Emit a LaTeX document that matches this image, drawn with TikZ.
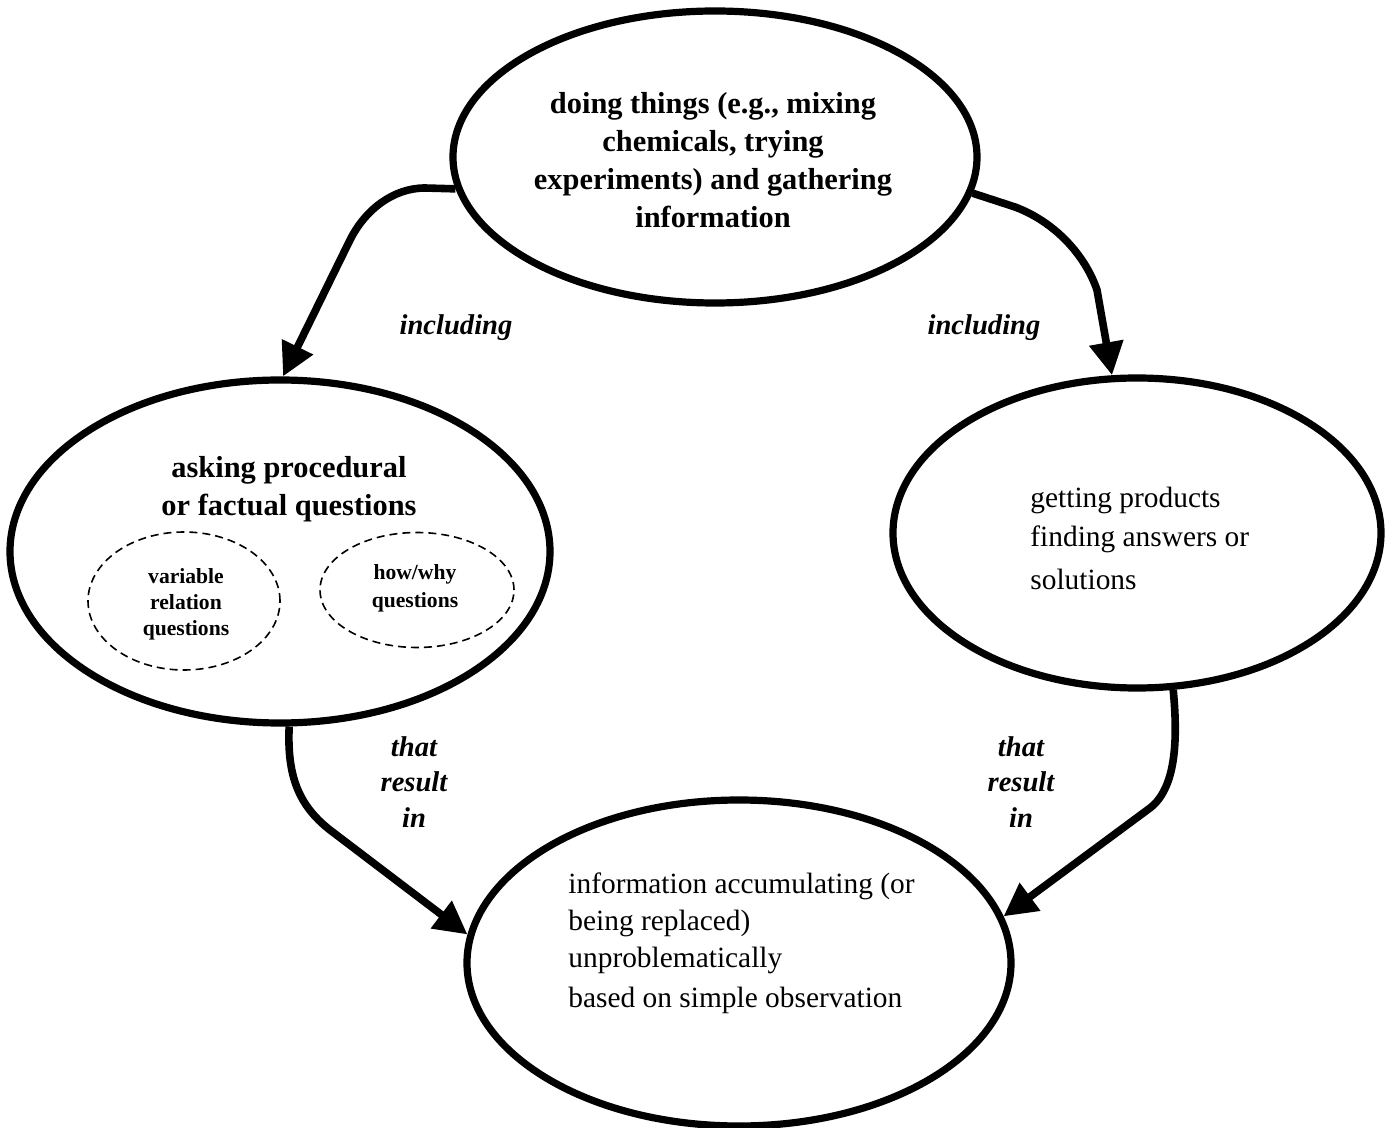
\documentclass[tikz,border=0pt]{standalone}
\usepackage{fontspec}
\setmainfont{Liberation Serif}
\usetikzlibrary{shapes.geometric,arrows.meta}
\begin{document}
\begin{tikzpicture}[x=0.5pt,y=-0.5pt,
  bubble/.style={ellipse,draw,line width=3.6pt,inner sep=0pt},
  subbubble/.style={ellipse,draw,line width=0.8pt,dash pattern=on 4pt off 2.5pt,inner sep=0pt},
  headtext/.style={font=\fontsize{15.2}{19}\selectfont\bfseries,align=center,inner sep=0pt},
  bodytext/.style={font=\fontsize{14.7}{19.5}\selectfont,align=left,inner sep=0pt,anchor=north west},
  subtext/.style={font=\fontsize{10.8}{13}\selectfont\bfseries,align=center,inner sep=0pt},
  linktext/.style={font=\fontsize{14.3}{17.75}\selectfont\bfseries\itshape,align=center,inner sep=0pt},
  link/.style={line width=3.8pt,-{Triangle[length=16.5pt,width=16.5pt]}}]
\useasboundingbox (0,0) rectangle (1388,1128);

% concept bubbles
\node[bubble,minimum width=262pt,minimum height=146pt] (doing) at (715,157) {};
\node[bubble,minimum width=270pt,minimum height=171.5pt] (asking) at (280,551.5) {};
\node[bubble,minimum width=244pt,minimum height=155pt] (getting) at (1137,533) {};
\node[bubble,minimum width=272pt,minimum height=163pt] (info) at (739,963) {};

% sub-question bubbles inside the asking bubble
\node[subbubble,minimum width=96pt,minimum height=69pt] (varrel) at (184,601) {};
\node[subbubble,minimum width=97pt,minimum height=57.5pt] (howwhy) at (417,590) {};

% bubble texts
\node[headtext] (doingtxt) at (713,160) {doing things (e.g., mixing\\chemicals, trying\\experiments) and gathering\\information};
\node[headtext] (askingtxt) at (289,489) {asking procedural\\or factual questions};
\node[subtext] (varreltxt) at (186,604) {variable\\relation\\questions};
\node[subtext,font=\fontsize{10.8}{14}\selectfont\bfseries] (howwhytxt) at (415,588) {how/why\\questions};
\node[bodytext] (gettingtxt) at (1030,487) {getting products\\finding answers or\\[2pt]solutions};
\node[bodytext,font=\fontsize{14.7}{18.5}\selectfont] (infotxt) at (568,872) {information accumulating (or\\being replaced)\\unproblematically\\[1.5pt]based on simple observation};

% connectors
\draw[link] (doing.187) -- (425,188) .. controls (393,188) and (365,210) .. (350,240) -- (asking.89);
\draw[link] (doing.352) -- (1015,207) .. controls (1055,222) and (1085,255) .. (1097,290) -- (getting.99);
\draw[link] (asking.273) .. controls (287,775) and (298,805) .. (330,830) -- (info.174);
\draw[link] (getting.283) .. controls (1178,740) and (1176,788) .. (1150,808) -- (info.10);

% connector labels
\node[linktext] (inclL) at (456,328) {including};
\node[linktext] (inclR) at (984,328) {including};
\node[linktext] (resL) at (414,782) {that\\result\\in};
\node[linktext] (resR) at (1021,782) {that\\result\\in};
\end{tikzpicture}
\end{document}
